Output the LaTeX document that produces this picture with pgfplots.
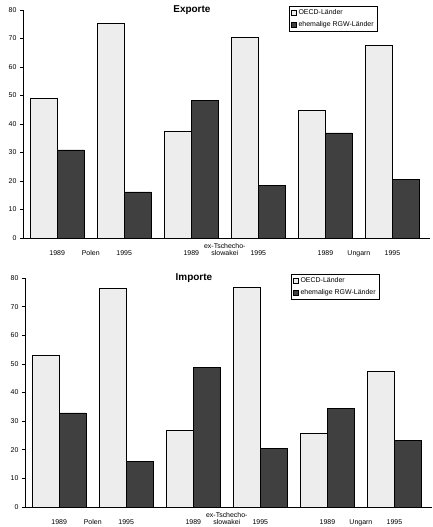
\documentclass[border=0pt]{standalone}
\usepackage{pgfplots}
\pgfplotsset{compat=1.18}
\usepackage{fontspec}
\setmainfont{Liberation Sans}
\definecolor{oecd}{gray}{0.93}
\definecolor{rgw}{gray}{0.25}
\pgfplotsset{
  mybars/.style={
    scale only axis, width=407bp, height=228bp,
    xmin=0.49, xmax=6.56, ymin=0, ymax=80,
    axis lines=left, axis line style={-, line width=1pt},
    ytick={0,10,...,80},
    xtick={1,1.5,2,3,3.5,4,5,5.5,6},
    xticklabels={1989,Polen,1995,1989,{\begin{tabular}[b]{@{}c@{}}ex-Tschecho-\\[-1bp]slowakei\end{tabular}},1995,1989,Ungarn,1995},
    x tick style={draw=none},
    y tick style={black, line width=0.6pt},
    tick align=outside, major tick length=3bp,
    ticklabel style={font=\fontsize{7}{8}\selectfont},
    xticklabel style={anchor=base, yshift=-14bp, inner sep=0pt},
    /pgf/number format/assume math mode=true,
    ybar, bar width=0.4, bar shift=0pt,
    every axis title shift=0pt,
    title style={at={(0.415,1)}, anchor=center, yshift=0pt, font=\bfseries\fontsize{10}{12}\selectfont},
    legend style={at={(0.654,1.018)}, anchor=north west, draw=black, line width=0.6pt,
      font=\fontsize{7}{8}\selectfont, inner sep=1.5bp, row sep=1bp},
    legend cell align=left,
    legend image code/.code={\draw[#1,line width=0.6pt] (0bp,-2.5bp) rectangle (5bp,2.5bp);},
    every axis plot/.append style={draw=black, line width=0.6pt},
  }
}
\begin{document}
\begin{tikzpicture}
\useasboundingbox (0,0) rectangle (433bp,-527bp);
\begin{axis}[mybars, at={(23bp,-238bp)}, anchor=south west, title={Exporte}]
\addplot[fill=oecd] coordinates {(0.8,49.0) (1.8,75.4) (2.8,37.3) (3.8,70.3) (4.8,44.8) (5.8,67.5)};
\addplot[fill=rgw] coordinates {(1.2,30.9) (2.2,16.2) (3.2,48.4) (4.2,18.4) (5.2,36.9) (6.2,20.6)};
\legend{OECD-Länder, ehemalige RGW-Länder}
\end{axis}
\begin{axis}[mybars, height=229bp, at={(25bp,-507bp)}, anchor=south west, title={Importe}]
\addplot[fill=oecd] coordinates {(0.8,52.9) (1.8,76.4) (2.8,26.7) (3.8,76.6) (4.8,25.7) (5.8,47.3)};
\addplot[fill=rgw] coordinates {(1.2,32.9) (2.2,16.0) (3.2,48.8) (4.2,20.5) (5.2,34.5) (6.2,23.2)};
\legend{OECD-Länder, ehemalige RGW-Länder}
\end{axis}
\end{tikzpicture}
\end{document}
